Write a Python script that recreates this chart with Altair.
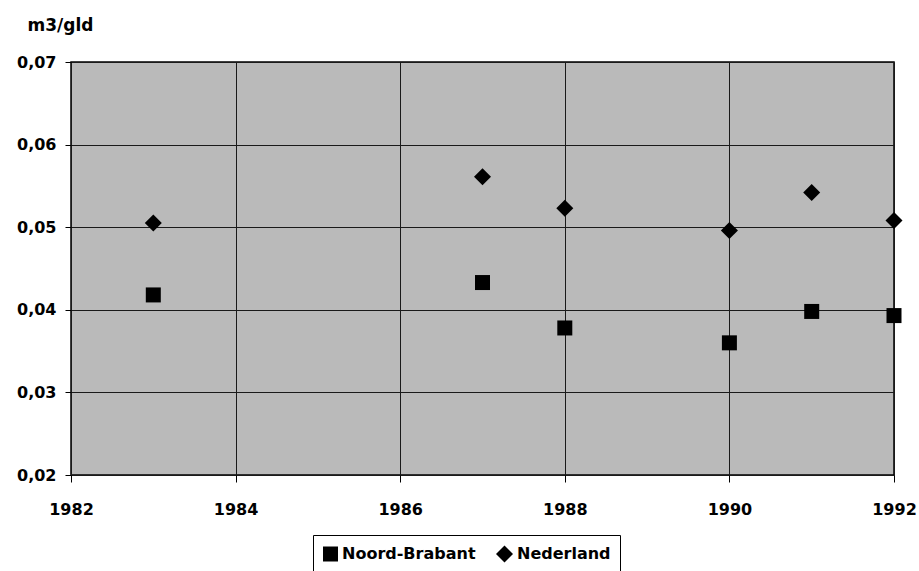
import altair as alt
import pandas as pd

years_nb = [1983, 1987, 1988, 1990, 1991, 1992]
noord_brabant = [0.0418, 0.0433, 0.0378, 0.0360, 0.0398, 0.0393]
years_nl = [1983, 1987, 1988, 1990, 1991, 1992]
nederland = [0.0505, 0.0561, 0.0523, 0.0496, 0.0542, 0.0508]
series_names = ["Noord-Brabant", "Nederland"]
x_ticks = [1982, 1984, 1986, 1988, 1990, 1992]
y_ticks = [0.02, 0.03, 0.04, 0.05, 0.06, 0.07]

rows = []
for yr, v in zip(years_nb, noord_brabant):
    rows.append({"jaar": yr, "waarde": v, "reeks": series_names[0]})
for yr, v in zip(years_nl, nederland):
    rows.append({"jaar": yr, "waarde": v, "reeks": series_names[1]})
df = pd.DataFrame(rows)

FONT = "DejaVu Sans"

leg = alt.Legend(title=None, orient="none", legendX=242, legendY=473,
                 direction="horizontal", strokeColor="#000",
                 padding=9, labelFont=FONT, labelFontWeight="bold",
                 labelFontSize=16, labelColor="#000",
                 symbolFillColor="#000", symbolStrokeColor="#000",
                 labelOffset=3, columnPadding=16)

chart = alt.Chart(df).mark_point(filled=True, opacity=1, color="#000").encode(
    x=alt.X("jaar:Q",
            scale=alt.Scale(domain=[1982, 1992], nice=False, zero=False),
            axis=alt.Axis(values=x_ticks, format="d", title=None,
                          grid=True, gridColor="#1a1a1a", gridWidth=1,
                          tickSize=7, tickColor="#000", domain=False,
                          labelFlush=False,
                          labelPadding=19, labelFont=FONT, labelFontWeight="bold",
                          labelFontSize=16, labelColor="#000")),
    y=alt.Y("waarde:Q",
            scale=alt.Scale(domain=[0.02, 0.07], nice=False, zero=False),
            axis=alt.Axis(values=y_ticks,
                          labelExpr="replace(format(datum.value, '.2f'), '.', ',')",
                          title="m3/gld", titleAngle=0, titleAlign="left",
                          titleBaseline="middle", titleX=-44, titleY=-37,
                          titleFont=FONT, titleFontSize=17, titleFontWeight="bold",
                          titleColor="#000",
                          grid=True, gridColor="#1a1a1a", gridWidth=1,
                          tickSize=6, tickColor="#000", domain=False,
                          labelFlush=False,
                          labelPadding=9, labelFont=FONT, labelFontWeight="bold",
                          labelFontSize=16, labelColor="#000")),
    shape=alt.Shape("reeks:N",
                    scale=alt.Scale(domain=series_names, range=["square", "diamond"]),
                    legend=leg),
    size=alt.Size("reeks:N",
                  scale=alt.Scale(domain=series_names, range=[225, 290]),
                  legend=leg),
).properties(
    width=823, height=413,
    autosize=alt.AutoSizeParams(type="none"),
    padding={"left": 71, "top": 62, "right": 25, "bottom": 96},
    background="#ffffff",
).configure_view(
    fill="#bababa", stroke="#000", strokeWidth=1.5
)

chart.save("out.html", embed_options={"renderer": "svg", "actions": False})
